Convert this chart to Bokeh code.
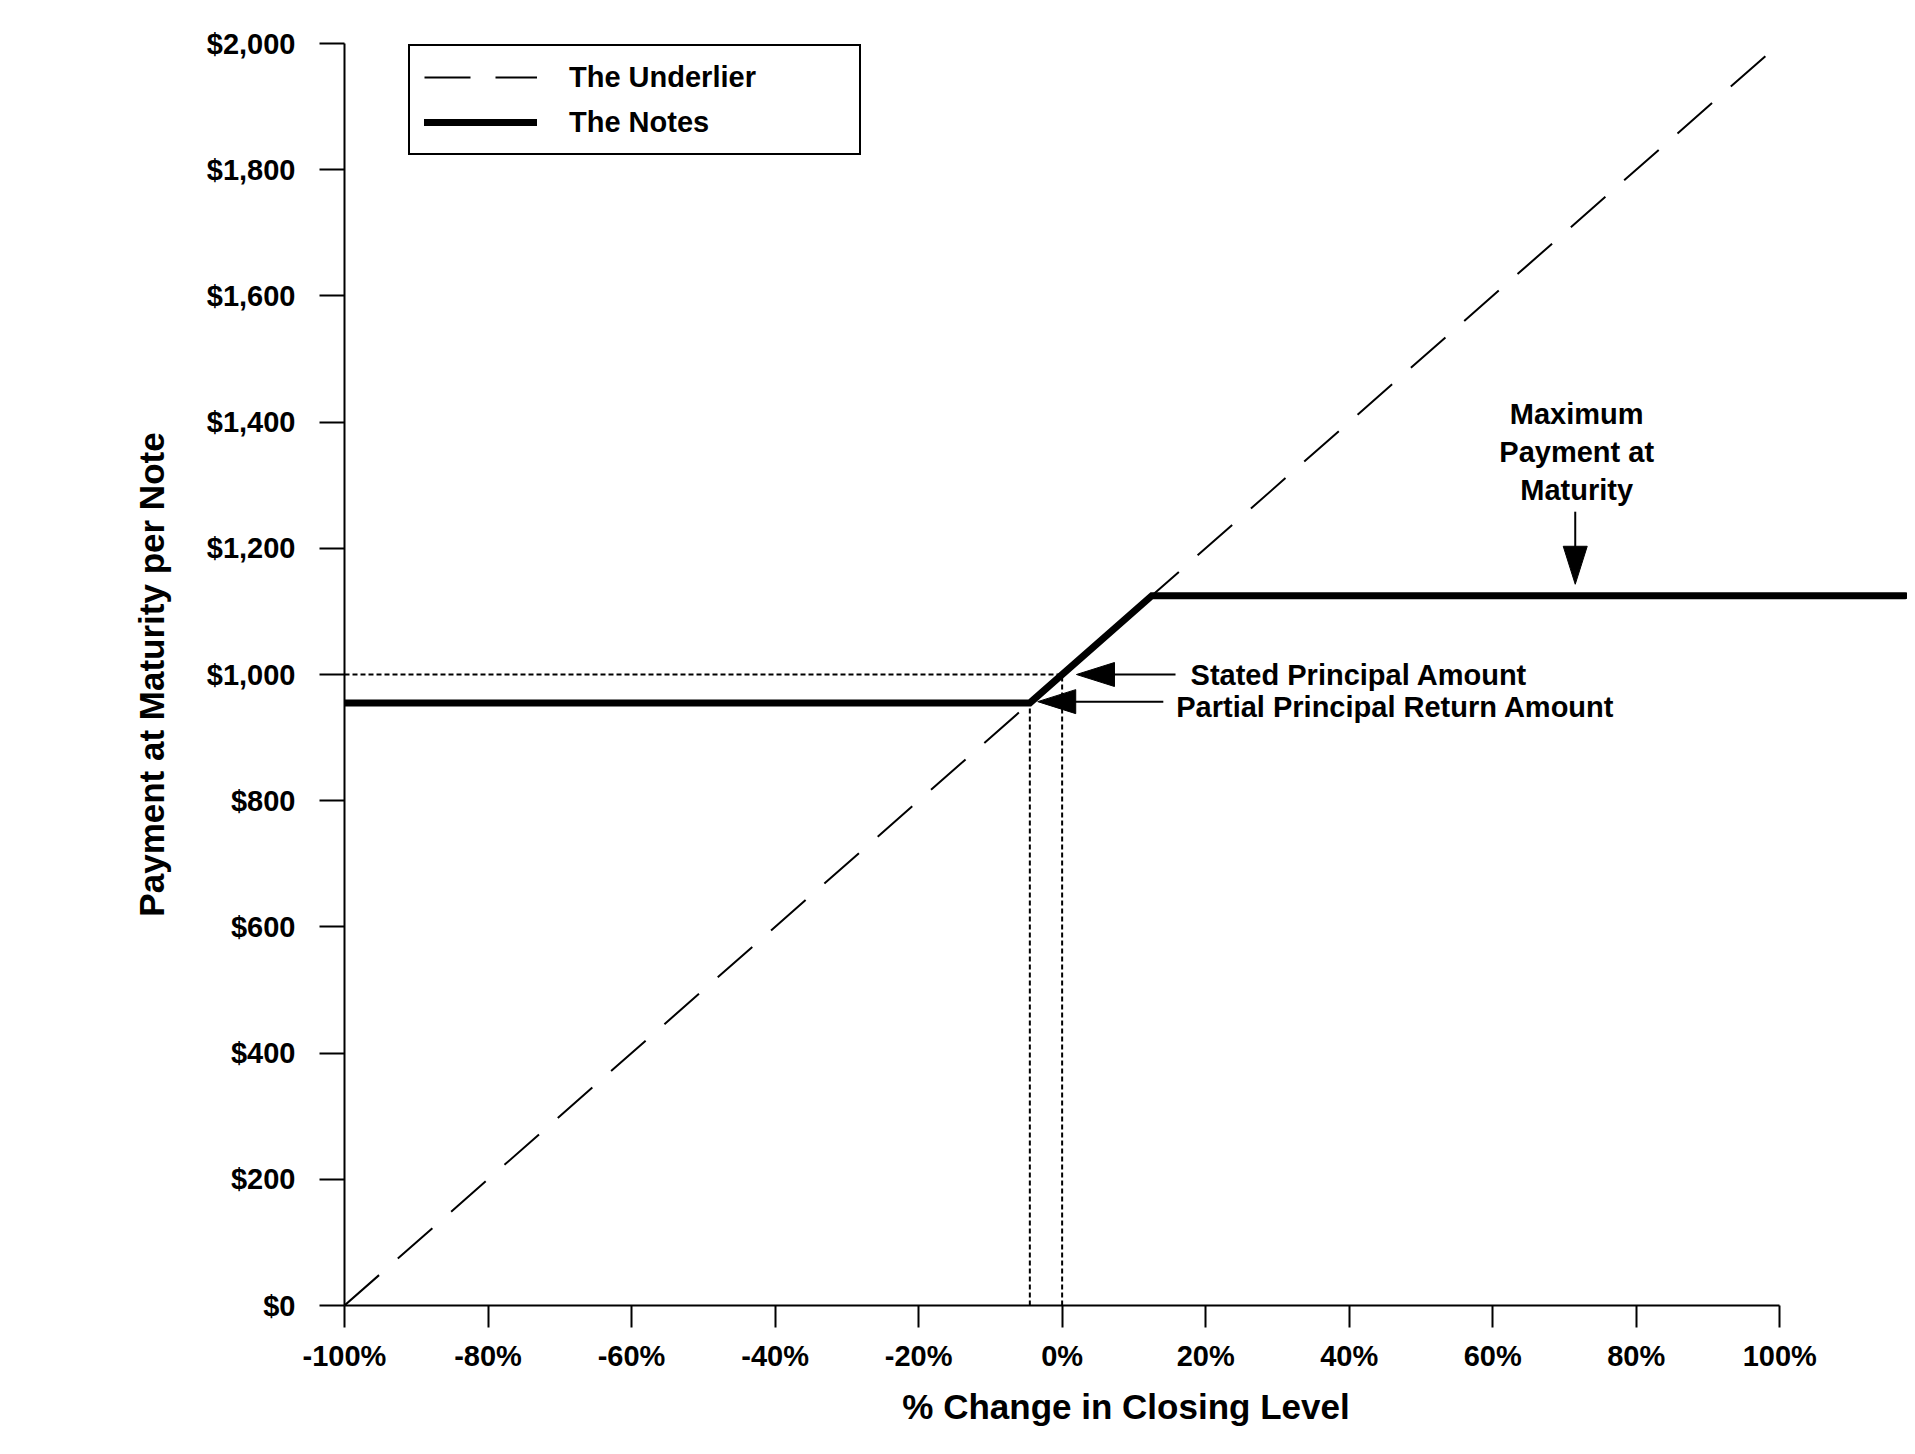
from bokeh.plotting import figure
from bokeh.models import Range1d, FixedTicker, Legend, LegendItem
from bokeh.core.properties import value
from bokeh.embed import file_html
from bokeh.resources import INLINE

# ---------------- data ----------------
pct_ticks = [-100, -80, -60, -40, -20, 0, 20, 40, 60, 80, 100]
pct_labels = ["-100%", "-80%", "-60%", "-40%", "-20%", "0%", "20%", "40%", "60%", "80%", "100%"]
usd_ticks = [0, 200, 400, 600, 800, 1000, 1200, 1400, 1600, 1800, 2000]
usd_labels = ["$0", "$200", "$400", "$600", "$800", "$1,000", "$1,200", "$1,400", "$1,600", "$1,800", "$2,000"]

underlier_x = [-100, 100]
underlier_y = [0, 2000]

notes_x = [-100, -4.5, 12.5, 117.5]
notes_y = [955, 955, 1125, 1125]

stated_principal = 1000
partial_return = 955
partial_pct = -4.5

# annotation anchors (data units)
stated_arrow = dict(tip_x=2.0, tail_x=15.8, y=1000)
partial_arrow = dict(tip_x=-3.4, tail_x=14.1, y=957)
max_arrow = dict(x=71.5, top_y=1258, tip_y=1143)
stated_text = dict(x=17.9, y=1000, text="Stated Principal Amount")
partial_text = dict(x=15.9, y=948, text="Partial Principal Return Amount")
max_text_x = 71.7
max_text_y = [1413, 1353, 1293]
max_text_lines = ["Maximum", "Payment at", "Maturity"]

# ---------------- figure ----------------
X0, X1 = -100, 117.8
W, H = 1907, 1438
MB_L, MB_T, MB_R, MB_B = 344, 43, 0, 133
frame_w = W - MB_L - MB_R
frame_h = H - MB_T - MB_B
sx = frame_w / (X1 - X0)   # px per %
sy = frame_h / 2000.0       # px per $

FONT = value("Liberation Sans")

p = figure(width=W, height=H, x_range=Range1d(X0, X1), y_range=Range1d(0, 2000),
           output_backend="svg", toolbar_location=None,
           min_border_left=MB_L, min_border_top=MB_T, min_border_right=MB_R, min_border_bottom=MB_B,
           background_fill_color="white", border_fill_color="white")
p.outline_line_color = None
p.xgrid.visible = False
p.ygrid.visible = False

p.xaxis.ticker = FixedTicker(ticks=pct_ticks)
p.xaxis.major_label_overrides = {t: l for t, l in zip(pct_ticks, pct_labels)}
p.yaxis.ticker = FixedTicker(ticks=usd_ticks)
p.yaxis.major_label_overrides = {t: l for t, l in zip(usd_ticks, usd_labels)}
p.xaxis.bounds = (-100, 100)
p.yaxis.bounds = (0, 2000)

for ax in (p.xaxis[0], p.yaxis[0]):
    ax.axis_line_color = "black"
    ax.axis_line_width = 2
    ax.major_tick_line_color = "black"
    ax.major_tick_line_width = 2
    ax.major_tick_in = 0
    ax.minor_tick_in = 0
    ax.minor_tick_out = 0
    ax.major_label_text_font = "Liberation Sans"
    ax.major_label_text_font_style = "bold"
    ax.major_label_text_font_size = "29px"
    ax.major_label_text_color = "black"
    ax.axis_label_text_font = "Liberation Sans"
    ax.axis_label_text_font_style = "bold"
    ax.axis_label_text_font_size = "35px"
    ax.axis_label_text_color = "black"

p.xaxis.major_tick_out = 22
p.yaxis.major_tick_out = 25
p.xaxis.major_label_standoff = 12
p.yaxis.major_label_standoff = 24
p.xaxis.axis_label = "% Change in Closing Level"
p.yaxis.axis_label = "Payment at Maturity per Note"
p.xaxis.axis_label_standoff = 12
p.yaxis.axis_label_standoff = 33

# dotted reference lines
p.line([X0, 0], [stated_principal, stated_principal], line_color="black", line_width=2, line_dash="5 3")
p.line([0, 0], [0, stated_principal], line_color="black", line_width=2, line_dash="5 3")
p.line([partial_pct, partial_pct], [0, partial_return], line_color="black", line_width=2, line_dash="5 3")

# series
r_under = p.line(underlier_x, underlier_y, line_color="black", line_width=2, line_dash="46 25")
r_notes = p.line(notes_x, notes_y, line_color="black", line_width=7, line_join="miter", line_cap="round")

# arrows
HL, HW = 38.0, 12.0   # head length, half width in px

def left_arrow(a):
    p.line([a["tail_x"], a["tip_x"] + HL / sx * 0.9], [a["y"], a["y"]], line_color="black", line_width=2)
    p.patch([a["tip_x"], a["tip_x"] + HL / sx, a["tip_x"] + HL / sx],
            [a["y"], a["y"] + HW / sy, a["y"] - HW / sy], fill_color="black", line_color="black", line_width=1)

left_arrow(stated_arrow)
left_arrow(partial_arrow)
p.line([max_arrow["x"], max_arrow["x"]], [max_arrow["top_y"], max_arrow["tip_y"] + HL / sy * 0.9],
       line_color="black", line_width=2)
p.patch([max_arrow["x"], max_arrow["x"] - HW / sx, max_arrow["x"] + HW / sx],
        [max_arrow["tip_y"], max_arrow["tip_y"] + HL / sy, max_arrow["tip_y"] + HL / sy],
        fill_color="black", line_color="black", line_width=1)

# texts
p.text(x=[stated_text["x"], partial_text["x"]], y=[stated_text["y"], partial_text["y"]],
       text=[stated_text["text"], partial_text["text"]],
       text_font=FONT, text_font_style="bold", text_font_size="29px", text_color="black",
       text_align="left", text_baseline="middle")
p.text(x=[max_text_x] * len(max_text_lines), y=max_text_y, text=max_text_lines,
       text_font=FONT, text_font_style="bold", text_font_size="29px", text_color="black",
       text_align="center", text_baseline="middle")

# legend
legend = Legend(items=[LegendItem(label="The Underlier", renderers=[r_under]),
                       LegendItem(label="The Notes", renderers=[r_notes])])
legend.location = (64, frame_h - 112)
legend.margin = 0
legend.padding = 14
legend.spacing = 11
legend.glyph_height = 34
legend.label_height = 34
legend.glyph_width = 113
legend.label_standoff = 32
legend.label_width = 276
legend.border_line_color = "black"
legend.border_line_alpha = 1.0
legend.border_line_width = 2
legend.background_fill_color = "white"
legend.background_fill_alpha = 1.0
legend.label_text_font = "Liberation Sans"
legend.label_text_font_style = "bold"
legend.label_text_font_size = "29px"
legend.label_text_color = "black"
legend.label_text_baseline = "middle"
p.add_layout(legend)

open("out.html", "w").write(file_html(p, INLINE))
